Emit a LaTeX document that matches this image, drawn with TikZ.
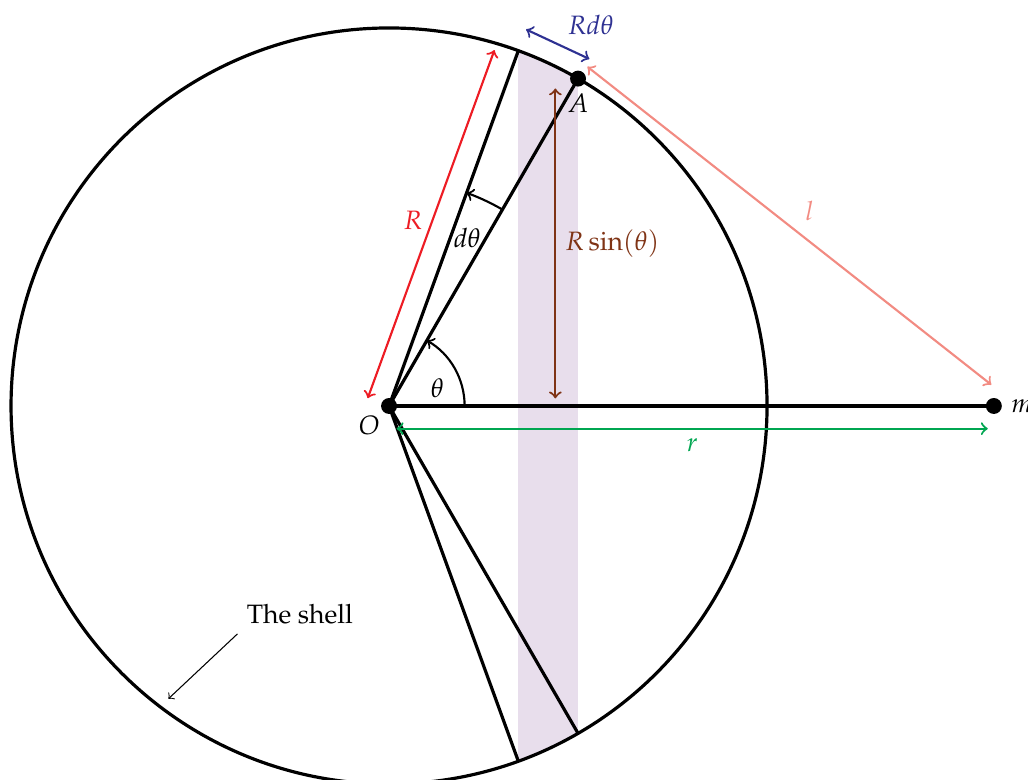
\documentclass[tikz,border=0pt]{standalone}
\usepackage[T1]{fontenc}
\usepackage[dvipsnames]{xcolor}
\usepackage{amsmath}
\usepackage{mathpazo}
\usepackage{tikz}
\usetikzlibrary{arrows,calc,positioning}
\definecolor{ShellBand}{HTML}{E8DEEC}
\definecolor{ShellRed}{HTML}{ED1C24}
\definecolor{ShellBlue}{HTML}{2E3192}
\definecolor{ShellBrown}{HTML}{7F3315}
\definecolor{ShellPink}{HTML}{F28B82}
\definecolor{ShellGreen}{HTML}{00A651}

\begin{document}
\begin{tikzpicture}[dim/.style={<->, thick}]
\useasboundingbox (-5.146,-4.947) rectangle (8.452,5.37);

\coordinate (O) at (0,0);
\coordinate (A) at (60:5);
\coordinate (B) at (70:5);
\coordinate (C) at (-60:5);
\coordinate (D) at (-70:5);
\coordinate (m) at (8,0);

\begin{scope}
\clip (O) circle (5);
\fill[ShellBand] (1.710,-5) rectangle (2.5,5);
\end{scope}

\draw[very thick] (O) circle (5);
\draw[very thick] (O) -- (m);
\draw[very thick] (O) -- (A);
\draw[very thick] (O) -- (B);
\draw[very thick] (O) -- (C);
\draw[very thick] (O) -- (D);

\fill (O) circle (3pt) node[below left] (Olabel) {$O$};
\fill (A) circle (3pt) node[below=2pt] (Alabel) {$A$};
\fill (m) circle (3pt) node[right=3pt] (mlabel) {$m$};

\draw[->, thick] (1,0) arc (0:60:1);
\node (theta) at (0.64,0.24) {$\theta$};
\draw[->, thick] (60:3) arc (60:70:3);
\node (dtheta) at (65:2.45) {$d\theta$};

\draw[dim, ShellRed, shorten >=1mm] ($(O)!3mm!90:(B)$) -- ($(B)!3mm!-90:(O)$) node[midway, left] (Rlabel) {$R$};
\draw[dim, ShellBlue] (70:5.3) -- (60:5.3) node[midway, above right] (Rdlabel) {$Rd\theta$};
\draw[dim, ShellBrown] (2.2,0.1) -- (2.2,4.2) node[midway, right] (Rsinlabel) {$R\sin(\theta)$};
\draw[dim, ShellPink, shorten >=2mm] ($(A)!2mm!90:(m)$) -- ($(m)!2mm!-90:(A)$) node[midway, above right] (llabel) {$l$};
\draw[dim, ShellGreen] (0.1,-0.3) -- (7.92,-0.3) node[midway, below] (rlabel) {$r$};

\node (shell) at (-1.18,-2.76) {The shell};
\draw[->, thin] (shell.south west) -- (233:4.85);

\end{tikzpicture}
\end{document}
